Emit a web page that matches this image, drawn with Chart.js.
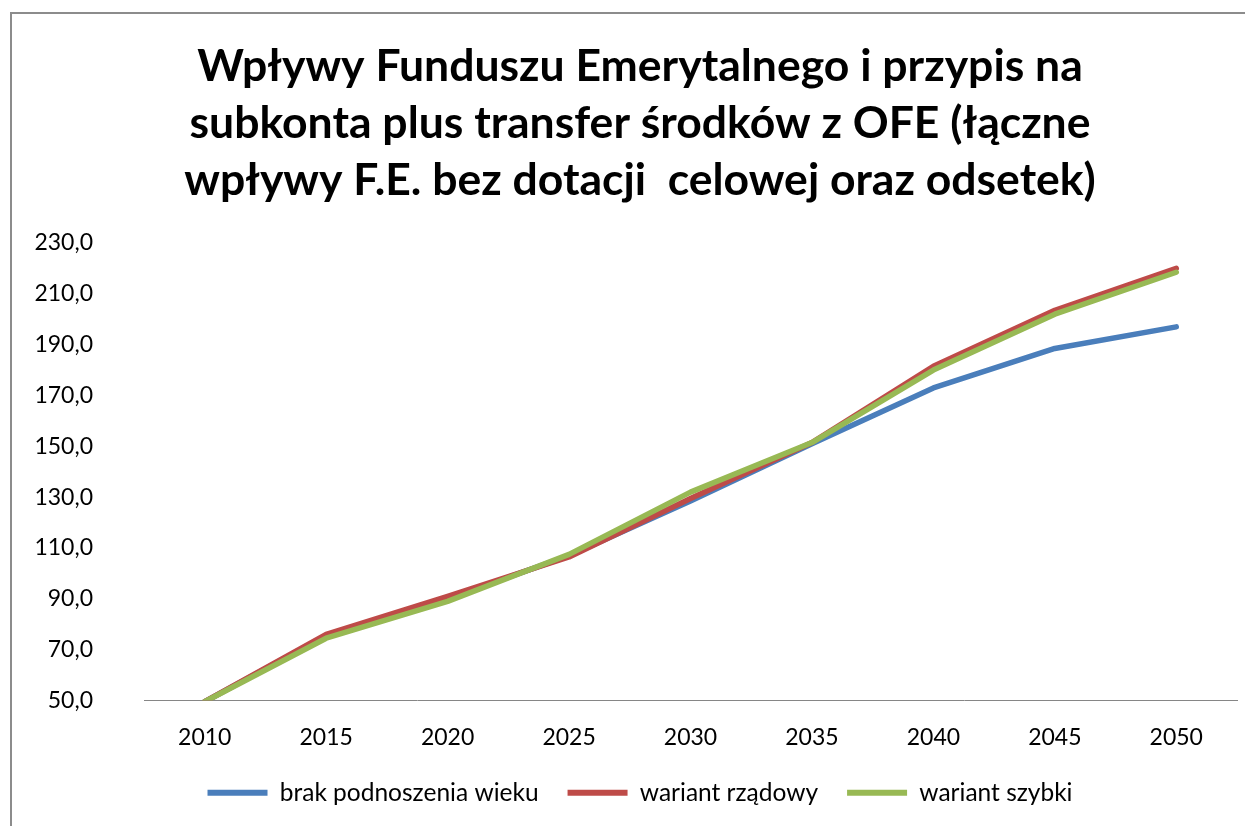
<!DOCTYPE html>
<html>
<head>
<meta charset="utf-8">
<script src="https://cdn.jsdelivr.net/npm/chart.js@4/dist/chart.umd.min.js"></script>
<style>
html,body{margin:0;padding:0;background:#fff;overflow:hidden;width:1245px;height:826px;}
#wrap{position:absolute;left:0;top:0;width:1280px;height:826px;}
</style>
</head>
<body>
<div id="wrap"><canvas id="c" width="1280" height="826"></canvas></div>
<script>
const titleLines = ["Wpływy Funduszu Emerytalnego i przypis na", "subkonta plus transfer środków z OFE (łączne", "wpływy F.E. bez dotacji  celowej oraz odsetek)"];
const categories = ["2010","2015","2020","2025","2030","2035","2040","2045","2050"];
const seriesNames = ["brak podnoszenia wieku","wariant rządowy","wariant szybki"];
const brakPodnoszenia = [49.5, 75.5, 90.0, 107.0, 128.5, 151.0, 173.0, 188.5, 197.0];
const wariantRzadowy  = [49.5, 76.0, 91.0, 106.5, 129.5, 151.5, 181.5, 203.5, 220.0];
const wariantSzybki   = [49.5, 74.5, 89.0, 107.5, 132.0, 151.5, 180.0, 202.0, 218.5];
const yMin = 50, yMax = 230, yStep = 20;
const colors = ["#4A7EBB", "#BE4B48", "#98B954"];

const framePlugin = {
  id: 'frame',
  beforeDraw(chart) {
    const ctx = chart.ctx;
    ctx.save();
    ctx.fillStyle = '#fff';
    ctx.fillRect(0, 0, chart.width, chart.height);
    ctx.strokeStyle = '#8c8c8c';
    ctx.lineWidth = 2;
    ctx.strokeRect(11, 13, 1400, 1000);
    ctx.restore();
  }
};

const seriesData = [brakPodnoszenia, wariantRzadowy, wariantSzybki];
new Chart(document.getElementById('c'), {
  type: 'line',
  data: {
    labels: categories,
    datasets: seriesNames.map((n, i) => ({
      label: n,
      data: seriesData[i],
      borderColor: colors[i],
      backgroundColor: colors[i],
      borderWidth: 5.5,
      pointRadius: 0,
      tension: 0,
      borderCapStyle: 'round',
      borderJoinStyle: 'round',
      order: 2 - i,
      yAxisID: 'y'
    }))
  },
  options: {
    responsive: false,
    animation: false,
    devicePixelRatio: 1,
    layout: { padding: { left: 0, right: 0, top: 0, bottom: 11 } },
    plugins: {
      title: {
        display: true,
        text: titleLines,
        color: '#000',
        font: { family: 'Lato', weight: 'bold', size: 44.5, lineHeight: 1.281 },
        padding: { top: 38, bottom: 34 }
      },
      legend: {
        position: 'bottom',
        labels: {
          color: '#000',
          font: { family: 'Lato', size: 24.5 },
          boxWidth: 60,
          boxHeight: 6,
          padding: 29,
          sort: (a, b) => a.datasetIndex - b.datasetIndex,
          generateLabels(chart) {
            const items = Chart.defaults.plugins.legend.labels.generateLabels(chart);
            items.forEach(it => { it.lineWidth = 0; it.fillStyle = colors[it.datasetIndex]; });
            return items;
          }
        }
      },
      tooltip: { enabled: false }
    },
    scales: {
      x: {
        offset: true,
        grid: { display: false, drawTicks: false },
        border: { display: true, color: '#868686', width: 1 },
        ticks: { color: '#000', font: { family: 'Lato', size: 23 }, padding: 23, maxRotation: 0 },
        afterFit(s) { s.height = 51; }
      },
      y: {
        min: yMin, max: yMax,
        grid: { display: false, drawTicks: false },
        border: { display: false },
        ticks: {
          stepSize: yStep,
          color: '#000',
          font: { family: 'Lato', size: 23 },
          padding: 51,
          callback: v => v.toFixed(1).replace('.', ',')
        },
        afterFit(s) { s.width = 144; }
      },
      yr: {
        position: 'right',
        display: true,
        min: yMin, max: yMax,
        grid: { display: false, drawTicks: false },
        border: { display: false },
        ticks: { display: false },
        afterFit(s) { s.width = 43; }
      }
    }
  },
  plugins: [framePlugin]
});
</script>
</body>
</html>
